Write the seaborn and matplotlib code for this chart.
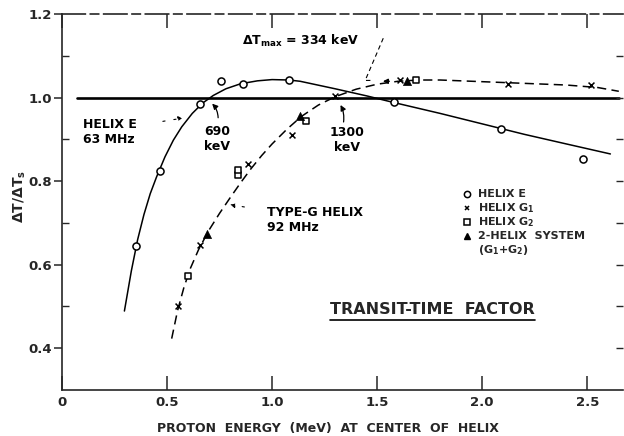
import numpy as np
import pandas as pd
import matplotlib.pyplot as plt
from matplotlib.lines import Line2D
import seaborn as sns

# ---- data ----
# Helix E measured points and fitted solid curve
helix_e_x = [0.351, 0.467, 0.657, 0.756, 0.863, 1.08, 1.58, 2.087, 2.48]
helix_e_y = [0.644, 0.825, 0.984, 1.04, 1.033, 1.043, 0.99, 0.924, 0.852]
curve_e_x = [0.297, 0.33, 0.36, 0.39, 0.42, 0.45, 0.49, 0.53, 0.57, 0.62, 0.67, 0.72,
             0.78, 0.85, 0.93, 1.0, 1.08, 1.133, 1.3, 1.45, 1.58, 1.8, 2.0, 2.2, 2.4, 2.61]
curve_e_y = [0.489, 0.585, 0.66, 0.72, 0.77, 0.81, 0.858, 0.898, 0.93, 0.962, 0.987, 1.005,
             1.021, 1.033, 1.04, 1.043, 1.042, 1.039, 1.021, 1.004, 0.988, 0.962, 0.937,
             0.912, 0.889, 0.865]

# Type-G helix points
helix_g1_x = [0.551, 0.657, 0.887, 1.094, 1.30, 1.61, 2.125, 2.52]
helix_g1_y = [0.501, 0.648, 0.841, 0.911, 1.003, 1.041, 1.032, 1.031]
helix_g2_x = [0.601, 0.84, 0.84, 1.162, 1.686]
helix_g2_y = [0.572, 0.814, 0.826, 0.945, 1.042]
system_x = [0.692, 1.133, 1.644]
system_y = [0.674, 0.956, 1.039]
curve_g_x = [0.522, 0.55, 0.58, 0.61, 0.65, 0.70, 0.75, 0.80, 0.85, 0.90, 0.95, 1.0,
             1.07, 1.14, 1.22, 1.30, 1.40, 1.50, 1.60, 1.70, 1.80, 2.10, 2.40, 2.55, 2.65]
curve_g_y = [0.423, 0.49, 0.545, 0.59, 0.636, 0.683, 0.723, 0.76, 0.796, 0.83, 0.861, 0.889,
             0.924, 0.955, 0.982, 1.002, 1.02, 1.032, 1.039, 1.042, 1.042, 1.036, 1.03,
             1.024, 1.015]

ref_x = [0.07, 2.65]
ref_y = [1.0, 1.0]

x_ticks = [0, 0.5, 1.0, 1.5, 2.0, 2.5]
x_tick_labels = ["0", "0.5", "1.0", "1.5", "2.0", "2.5"]
y_ticks = [0.4, 0.6, 0.8, 1.0, 1.2]
y_tick_labels = ["0.4", "0.6", "0.8", "1.0", "1.2"]

legend_labels = ["HELIX E", "HELIX G$_1$", "HELIX G$_2$", "2-HELIX  SYSTEM", "(G$_1$+G$_2$)"]

sns.set_style("ticks")
plt.rcParams["font.family"] = ["DejaVu Sans"]
plt.rcParams["mathtext.default"] = "regular"

fig = plt.figure(figsize=(6.24, 4.36), dpi=100)
ax = fig.add_axes([62 / 624, 1 - 390 / 436, 561 / 624, 376 / 436])

# curves
sns.lineplot(x=ref_x, y=ref_y, ax=ax, color="black", lw=1.9, sort=False, estimator=None)
sns.lineplot(x=curve_e_x, y=curve_e_y, ax=ax, color="black", lw=1.1, sort=False, estimator=None)
sns.lineplot(x=curve_g_x, y=curve_g_y, ax=ax, color="black", lw=1.1, ls=(0, (6, 3.5)),
             sort=False, estimator=None)

# points
sns.scatterplot(x=helix_e_x, y=helix_e_y, ax=ax, marker="o", s=26, facecolors="white",
                edgecolor="black", linewidth=1.1, zorder=5)
sns.scatterplot(x=helix_g1_x, y=helix_g1_y, ax=ax, marker="x", s=18, color="black",
                linewidth=1.1, zorder=5)
sns.scatterplot(x=helix_g2_x, y=helix_g2_y, ax=ax, marker="s", s=20, facecolors="white",
                edgecolor="black", linewidth=1.1, zorder=5)
sns.scatterplot(x=system_x, y=system_y, ax=ax, marker="^", s=34, color="black",
                edgecolor="black", linewidth=0.5, zorder=5)

ax.set_xlim(0, 2.67)
ax.set_ylim(0.3, 1.2)

# axes styling
ax.set_xticks(x_ticks)
ax.set_xticklabels(x_tick_labels)
ax.set_yticks(y_ticks)
ax.set_yticklabels(y_tick_labels)
ax.set_yticks([0.5, 0.7, 0.9, 1.1], minor=True)
ax.tick_params(axis="x", direction="in", length=10, width=1.1, top=True, bottom=True,
               labelsize=9.5, pad=4)
ax.tick_params(axis="y", which="major", direction="out", length=6, width=1.1,
               labelsize=9.5, pad=1, right=False)
ax.tick_params(axis="y", which="minor", direction="in", length=5, width=1.0, right=False)
for lab in ax.get_xticklabels() + ax.get_yticklabels():
    lab.set_fontweight("bold")
ax.spines["right"].set_visible(False)
ax.spines["top"].set_linestyle((0, (14, 3, 5, 3)))
for sp in ["left", "bottom", "top"]:
    ax.spines[sp].set_linewidth(1.2)

rax = ax.twinx()
rax.set_ylim(ax.get_ylim())
rax.set_yticks(np.round(np.arange(0.4, 1.15, 0.1), 1))
rax.tick_params(axis="y", direction="in", length=5, width=1.0, labelright=False)
for sp in rax.spines.values():
    sp.set_visible(False)

ax.set_xlabel("")
ax.set_ylabel("")
fig.text(328 / 624, 1 - 428 / 436, "PROTON  ENERGY  (MeV)  AT  CENTER  OF  HELIX",
         ha="center", va="center", fontsize=9, fontweight="bold")
fig.text(20 / 624, 1 - 197 / 436, r"$\Delta$T/$\Delta$T$_s$", rotation=90,
         ha="center", va="center", fontsize=10, fontweight="bold")

# annotations
tkw = dict(fontsize=9, fontweight="bold", color="black")
ax.text(0.857, 1.135, r"$\Delta$T$_{max}$ = 334 keV", ha="left", va="center", **tkw)
ax.plot([1.529, 1.443, 1.47], [1.142, 1.041, 1.041], color="black", lw=0.8,
        ls=(0, (4, 3)))
ax.annotate("", xy=(1.514, 1.039), xytext=(1.571, 1.039),
            arrowprops=dict(arrowstyle="-|>", color="black", lw=1.0, mutation_scale=7))

ax.text(0.10, 0.918, "HELIX E\n63 MHz", ha="left", va="center", linespacing=1.15, **tkw)
ax.annotate("", xy=(0.59, 0.952), xytext=(0.467, 0.942),
            arrowprops=dict(arrowstyle="-|>", color="black", lw=0.8, mutation_scale=7,
                            ls=(0, (2, 8))))

ax.text(0.738, 0.901, "690\nkeV", ha="center", va="center", linespacing=1.15, **tkw)
ax.annotate("", xy=(0.705, 0.990), xytext=(0.743, 0.945),
            arrowprops=dict(arrowstyle="-|>", color="black", lw=0.9, mutation_scale=8,
                            connectionstyle="arc3,rad=0.25"))

ax.text(1.357, 0.899, "1300\nkeV", ha="center", va="center", linespacing=1.15, **tkw)
ax.annotate("", xy=(1.319, 0.988), xytext=(1.338, 0.935),
            arrowprops=dict(arrowstyle="-|>", color="black", lw=0.9, mutation_scale=8,
                            connectionstyle="arc3,rad=0.2"))

ax.text(0.976, 0.707, "TYPE-G HELIX\n92 MHz", ha="left", va="center", linespacing=1.15, **tkw)
ax.annotate("", xy=(0.786, 0.745), xytext=(0.881, 0.737),
            arrowprops=dict(arrowstyle="-|>", color="black", lw=0.8, mutation_scale=7,
                            ls=(0, (2, 8))))

title = ax.text(1.762, 0.492, "TRANSIT-TIME  FACTOR", ha="center", va="center",
                fontsize=11.5, fontweight="bold")

# legend, laid out by hand like the original lettering
leg_markers = [
    dict(marker="o", ms=4.5, mfc="white", mec="black", mew=1.1),
    dict(marker="x", ms=3.5, color="black", mew=1.1),
    dict(marker="s", ms=4, mfc="white", mec="black", mew=1.1),
    dict(marker="^", ms=5, color="black"),
    None,
]
leg_x0, leg_y0, leg_dy = (467 - 62) / 561, (390 - 194) / 376, 14 / 376
for i, (lab, mk) in enumerate(zip(legend_labels, leg_markers)):
    yy = leg_y0 - i * leg_dy
    if mk is not None:
        ax.add_line(Line2D([leg_x0], [yy], ls="", transform=ax.transAxes, **mk))
    ax.text(leg_x0 + 11 / 561, yy, lab, transform=ax.transAxes, ha="left", va="center",
            fontsize=8, fontweight="bold")

# underline for the caption
fig.canvas.draw()
bb = title.get_window_extent()
inv = fig.transFigure.inverted()
(x0, y0), (x1, _) = inv.transform([(bb.x0, bb.y0 - 3), (bb.x1, bb.y0 - 3)])
fig.add_artist(Line2D([x0, x1], [y0, y0], transform=fig.transFigure, color="black", lw=1.2))

fig.savefig("out.png", dpi=100, facecolor="white")
